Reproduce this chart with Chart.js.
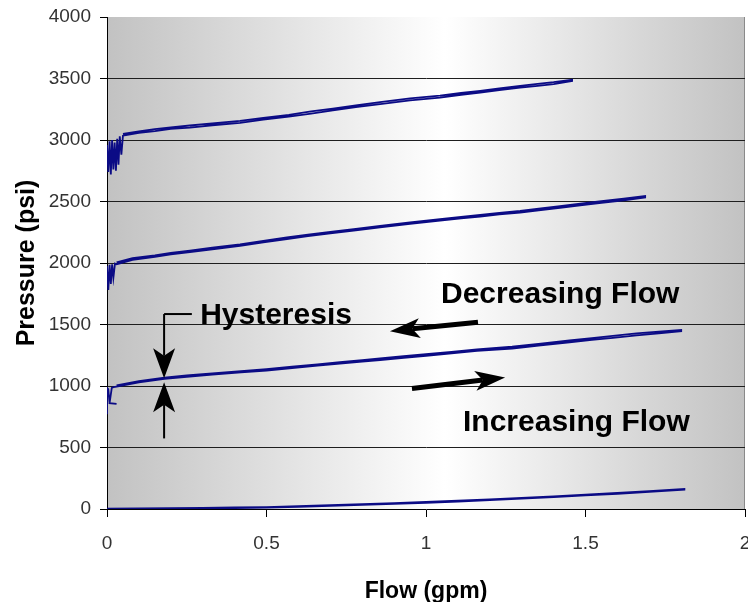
<!DOCTYPE html>
<html>
<head>
<meta charset="utf-8">
<script src="https://cdn.jsdelivr.net/npm/chart.js@4.4.0/dist/chart.umd.min.js"></script>
<style>
  html, body { margin: 0; padding: 0; background: #fff; }
  #wrap { width: 748px; height: 602px; }
</style>
</head>
<body>
<div id="wrap"><canvas id="flowChart" width="748" height="602"></canvas></div>
<script>
// ** axis ticks
const xTicks = [0, 0.5, 1, 1.5, 2];
const yTicks = [0, 500, 1000, 1500, 2000, 2500, 3000, 3500, 4000];

// ** ~3000 psi loop
const topNoiseFlow = [0, 0.004, 0.008, 0.012, 0.016, 0.02, 0.024, 0.028, 0.032, 0.036, 0.04, 0.045];
const topNoisePress = [2960, 2740, 2990, 2720, 3000, 2760, 2980, 2750, 3010, 2800, 3030, 2880];
const topFlow = [0.05, 0.1, 0.15, 0.2, 0.26, 0.33, 0.417, 0.49, 0.57, 0.64, 0.708, 0.78, 0.856, 0.95, 1.044, 1.11, 1.17, 1.23, 1.295, 1.35, 1.4, 1.458];
const topUp = [3035, 3058, 3072, 3090, 3100, 3120, 3140, 3165, 3190, 3215, 3240, 3268, 3292, 3322, 3345, 3368, 3386, 3405, 3425, 3440, 3455, 3480];
const topDown = [3050, 3070, 3088, 3102, 3118, 3135, 3156, 3180, 3205, 3232, 3255, 3282, 3308, 3338, 3360, 3382, 3400, 3420, 3440, 3456, 3470, 3490];

// ** ~2000 psi loop
const midNoiseFlow = [0, 0.004, 0.008, 0.012, 0.016, 0.02, 0.025];
const midNoisePress = [1975, 1780, 1985, 1830, 1990, 1880, 1995];
const midFlow = [0.03, 0.08, 0.15, 0.2, 0.26, 0.33, 0.417, 0.49, 0.564, 0.63, 0.7, 0.78, 0.856, 0.95, 1.044, 1.11, 1.17, 1.23, 1.295, 1.36, 1.42, 1.49, 1.55, 1.62, 1.687];
const midUp = [1990, 2025, 2050, 2070, 2088, 2110, 2140, 2168, 2195, 2218, 2240, 2266, 2290, 2318, 2344, 2362, 2378, 2396, 2410, 2430, 2448, 2470, 2488, 2510, 2532];
const midDown = [2005, 2040, 2062, 2082, 2100, 2124, 2152, 2180, 2208, 2230, 2252, 2278, 2302, 2330, 2356, 2374, 2392, 2408, 2424, 2444, 2462, 2484, 2502, 2524, 2545];

// ** ~1000 psi loop
const lowNoiseFlow = [0, 0, 0.004, 0.008, 0.03, 0.008, 0.015, 0.02];
const lowNoisePress = [770, 985, 975, 860, 855, 860, 985, 990];
const lowFlow = [0.03, 0.1, 0.18, 0.25, 0.33, 0.42, 0.5, 0.58, 0.66, 0.73, 0.8, 0.856, 0.93, 1.0, 1.08, 1.16, 1.27, 1.36, 1.45, 1.52, 1.586, 1.66, 1.73, 1.8];
const lowUp = [995, 1030, 1058, 1075, 1092, 1110, 1125, 1145, 1165, 1182, 1198, 1210, 1228, 1245, 1265, 1285, 1305, 1330, 1355, 1375, 1392, 1412, 1428, 1445];
const lowDown = [1005, 1040, 1068, 1086, 1102, 1120, 1138, 1158, 1176, 1194, 1210, 1224, 1242, 1258, 1278, 1298, 1320, 1345, 1370, 1390, 1408, 1428, 1442, 1455];

// ** ~0 psi loop
const baseFlow = [0, 0.1, 0.2, 0.3, 0.4, 0.5, 0.6, 0.7, 0.8, 0.9, 1.0, 1.1, 1.2, 1.3, 1.4, 1.5, 1.6, 1.7, 1.81];
const baseUp = [0, 2, 4, 6, 8, 12, 18, 26, 34, 42, 50, 60, 72, 84, 96, 110, 124, 140, 158];
const baseDown = [3, 5, 7, 9, 12, 16, 24, 32, 40, 48, 57, 67, 79, 91, 103, 116, 130, 146, 162];

// ** annotations (data units)
const noteTexts = [
    { text: "Hysteresis", x: 0.292, y: 1502 },
    { text: "Decreasing Flow", x: 1.047, y: 1673 },
    { text: "Increasing Flow", x: 1.116, y: 638 },
];
const bigArrows = [
    { from: [1.163, 1519], to: [0.887, 1446] },
    { from: [0.956, 980], to: [1.248, 1070] },
];

const FONT = '"Liberation Sans", Arial, sans-serif';
const LINE_COLOR = "#0b0b85";

const loopPoints = (noiseFlow, noisePress, flow, up, down) => {
    const pts = noiseFlow.map((f, i) => ({ x: f, y: noisePress[i] }));
    flow.forEach((f, i) => pts.push({ x: f, y: up[i] }));
    for (let i = flow.length - 1; i >= 0; i--) pts.push({ x: flow[i], y: down[i] });
    return pts;
};

const makeSet = (label, data) => ({
    label: label,
    data: data,
    borderColor: LINE_COLOR,
    borderWidth: 1.8,
    pointRadius: 0,
    tension: 0,
    fill: false,
});

// gray -> white -> gray plot background
const backgroundPlugin = {
    id: "plotBackground",
    beforeDraw(chart) {
        const { ctx, chartArea: a } = chart;
        const g = ctx.createLinearGradient(a.left, 0, a.right, 0);
        g.addColorStop(0, "#c2c2c2");
        g.addColorStop(0.53, "#ffffff");
        g.addColorStop(1, "#c2c2c2");
        ctx.save();
        ctx.fillStyle = g;
        ctx.fillRect(a.left, a.top, a.right - a.left, a.bottom - a.top);
        ctx.strokeStyle = "#8a8a8a";
        ctx.lineWidth = 1;
        ctx.beginPath();
        ctx.moveTo(a.right - 0.5, a.top);
        ctx.lineTo(a.right - 0.5, a.bottom);
        ctx.stroke();
        ctx.restore();
    },
};

// stealth style arrow
const drawArrow = (ctx, x0, y0, x1, y1, stem, headLen, headHalf) => {
    const ang = Math.atan2(y1 - y0, x1 - x0);
    const c = Math.cos(ang), s = Math.sin(ang);
    const bx = x1 - headLen * c, by = y1 - headLen * s;
    const nx = x1 - headLen * 0.75 * c, ny = y1 - headLen * 0.75 * s;
    ctx.lineWidth = stem;
    ctx.beginPath();
    ctx.moveTo(x0, y0);
    ctx.lineTo(nx, ny);
    ctx.stroke();
    ctx.beginPath();
    ctx.moveTo(x1, y1);
    ctx.lineTo(bx - headHalf * s, by + headHalf * c);
    ctx.lineTo(nx, ny);
    ctx.lineTo(bx + headHalf * s, by - headHalf * c);
    ctx.closePath();
    ctx.fill();
};

const notesPlugin = {
    id: "notes",
    afterDatasetsDraw(chart) {
        const { ctx, scales: { x, y } } = chart;
        const px = v => x.getPixelForValue(v);
        const py = v => y.getPixelForValue(v);
        ctx.save();
        ctx.fillStyle = "#000";
        ctx.strokeStyle = "#000";
        ctx.font = "bold 30px " + FONT;
        ctx.textBaseline = "alphabetic";
        ctx.textAlign = "left";
        noteTexts.forEach(n => ctx.fillText(n.text, px(n.x), py(n.y)));

        bigArrows.forEach(a => {
            drawArrow(ctx, px(a.from[0]), py(a.from[1]), px(a.to[0]), py(a.to[1]), 5, 30, 10);
        });

        // hysteresis bracket + arrows
        const hx = px(0.179);
        ctx.lineWidth = 2;
        ctx.beginPath();
        ctx.moveTo(px(0.266), py(1585));
        ctx.lineTo(hx, py(1585));
        ctx.stroke();
        drawArrow(ctx, hx, py(1585), hx, py(1063), 2, 30, 11);
        drawArrow(ctx, hx, py(574), hx, py(1030), 2, 30, 11);
        ctx.restore();
    },
};

new Chart(document.getElementById("flowChart"), {
    type: "line",
    data: {
        datasets: [
            makeSet("3000 psi", loopPoints(topNoiseFlow, topNoisePress, topFlow, topUp, topDown)),
            makeSet("2000 psi", loopPoints(midNoiseFlow, midNoisePress, midFlow, midUp, midDown)),
            makeSet("1000 psi", loopPoints(lowNoiseFlow, lowNoisePress, lowFlow, lowUp, lowDown)),
            makeSet("0 psi", loopPoints([], [], baseFlow, baseUp, baseDown)),
        ],
    },
    options: {
        responsive: false,
        animation: false,
        layout: { padding: { top: 17, right: 3, left: 0, bottom: 0 } },
        plugins: {
            legend: { display: false },
            tooltip: { enabled: false },
        },
        scales: {
            x: {
                type: "linear",
                min: 0,
                max: 2,
                afterBuildTicks: s => { s.ticks = xTicks.map(v => ({ value: v })); },
                afterFit: s => { s.height = 93; s.paddingLeft = 0; s.paddingRight = 0; },
                grid: { drawOnChartArea: false, drawTicks: true, tickLength: 8, color: "#000", tickColor: "#000" },
                border: { color: "#000", width: 1 },
                ticks: {
                    color: "#333",
                    font: { family: FONT, size: 19 },
                    padding: 15,
                    maxRotation: 0,
                    callback: v => String(v),
                },
                title: {
                    display: true,
                    text: "Flow (gpm)",
                    color: "#000",
                    font: { family: FONT, size: 23, weight: "bold" },
                    padding: { top: 0, bottom: -3 },
                },
            },
            y: {
                type: "linear",
                min: 0,
                max: 4000,
                afterBuildTicks: s => { s.ticks = yTicks.map(v => ({ value: v })); },
                afterFit: s => { s.width = 107; s.paddingTop = 0; s.paddingBottom = 0; },
                grid: {
                    color: c => (c.tick && (c.tick.value === 0 || c.tick.value === 4000)) ? "rgba(0,0,0,0)" : "#1e1e1e",
                    tickColor: "#000",
                    tickLength: 7,
                    lineWidth: 1,
                },
                border: { color: "#000", width: 1 },
                ticks: {
                    color: "#333",
                    font: { family: FONT, size: 19 },
                    padding: 9,
                    callback: v => String(v),
                },
                title: {
                    display: true,
                    text: "Pressure (psi)",
                    color: "#000",
                    font: { family: FONT, size: 25, weight: "bold" },
                    padding: { top: 12, bottom: 0 },
                },
            },
        },
    },
    plugins: [backgroundPlugin, notesPlugin],
});
</script>
</body>
</html>
